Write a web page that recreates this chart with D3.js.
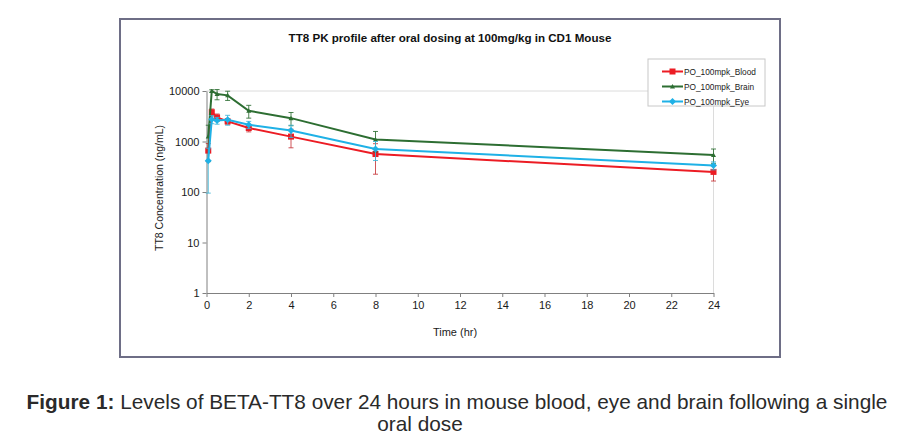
<!DOCTYPE html>
<html>
<head>
<meta charset="utf-8">
<script src="https://cdn.jsdelivr.net/npm/d3@7"></script>
<style>
  body { margin: 0; background: #fff; }
  text { font-family: Arial, "Liberation Sans", sans-serif; }
</style>
</head>
<body>
<div id="chart"></div>
<script>
// sampling times (hr)
const times = [0.083, 0.25, 0.5, 1, 2, 4, 8, 24];

// mean concentrations (ng/mL) and SD per tissue
const bloodMean = [660, 3800, 3000, 2500, 1850, 1250, 565, 250];
const bloodSd   = [250, 600, 500, 300, 300, 500, 340, 85];
const brainMean = [1250, 10000, 8700, 8200, 4050, 2900, 1100, 540];
const brainSd   = [850, 600, 2000, 1700, 1150, 850, 480, 170];
const eyeMean   = [415, 2750, 2600, 2700, 2150, 1650, 710, 335];
const eyeSd     = [320, 500, 400, 600, 350, 450, 290, 60];

const seriesNames = ["PO_100mpk_Blood", "PO_100mpk_Brain", "PO_100mpk_Eye"];
const xTicks = [0, 2, 4, 6, 8, 10, 12, 14, 16, 18, 20, 22, 24];
const yTicks = [1, 10, 100, 1000, 10000];

const width = 916, height = 440;
const plot = { left: 206.5, right: 713.5, top: 91, bottom: 293 };

const series = [
    { name: seriesNames[0], mean: bloodMean, sd: bloodSd, color: "#ec1c24", err: "#c8383c", marker: "square" },
    { name: seriesNames[1], mean: brainMean, sd: brainSd, color: "#2d6e32", err: "#2d6e32", marker: "triangle" },
    { name: seriesNames[2], mean: eyeMean, sd: eyeSd, color: "#1fb1e6", err: "#3fb6d8", marker: "diamond" }
];

const svg = d3.select("#chart").append("svg")
    .attr("width", width)
    .attr("height", height);

svg.append("rect").attr("width", width).attr("height", height).attr("fill", "#fff");

// chart frame
svg.append("rect")
    .attr("x", 120).attr("y", 19)
    .attr("width", 660).attr("height", 338)
    .attr("fill", "#fff")
    .attr("stroke", "#6e6e86")
    .attr("stroke-width", 2);

const x = d3.scaleLinear().domain([0, 24]).range([plot.left, plot.right]);
const y = d3.scaleLog().domain([1, 10000]).range([plot.bottom, plot.top]);

// plot area border (light)
svg.append("path")
    .attr("d", `M${plot.left},${plot.top}H${plot.right}V${plot.bottom}`)
    .attr("fill", "none")
    .attr("stroke", "#dcdcdc")
    .attr("stroke-width", 1);

svg.append("defs").append("clipPath").attr("id", "clip")
    .append("rect")
    .attr("x", plot.left - 10).attr("y", plot.top - 2)
    .attr("width", plot.right - plot.left + 20).attr("height", plot.bottom - plot.top + 2);

// axes
const xAxis = svg.append("g")
    .attr("transform", `translate(0,${plot.bottom})`)
    .call(d3.axisBottom(x).tickValues(xTicks).tickSize(4).tickSizeOuter(0));
const yAxis = svg.append("g")
    .attr("transform", `translate(${plot.left},0)`)
    .call(d3.axisLeft(y).tickValues(yTicks).tickFormat(d3.format("d")).tickSize(4).tickSizeOuter(0));

[xAxis, yAxis].forEach(a => {
    a.select(".domain").attr("stroke", "#808080");
    a.selectAll(".tick line").attr("stroke", "#808080");
    a.selectAll(".tick text")
        .attr("fill", "#1a1a1a")
        .style("font-size", "11px")
        .style("font-family", "Arial, 'Liberation Sans', sans-serif");
});
xAxis.selectAll(".tick text").attr("dy", "0.85em");
yAxis.selectAll(".tick text").attr("x", -7);

// titles
svg.append("text")
    .attr("x", 450).attr("y", 42)
    .attr("text-anchor", "middle")
    .style("font-size", "11.6px").style("font-weight", "bold")
    .attr("fill", "#111")
    .text("TT8 PK profile after oral dosing at 100mg/kg in CD1 Mouse");

svg.append("text")
    .attr("x", 455).attr("y", 336)
    .attr("text-anchor", "middle")
    .style("font-size", "11px")
    .attr("fill", "#1a1a1a")
    .text("Time (hr)");

svg.append("text")
    .attr("transform", `translate(163,188) rotate(-90)`)
    .attr("text-anchor", "middle")
    .style("font-size", "10.5px")
    .attr("fill", "#1a1a1a")
    .text("TT8 Concentration (ng/mL)");

// data layers
const layer = svg.append("g").attr("clip-path", "url(#clip)");
const line = d3.line().x(d => x(d.t)).y(d => y(d.v));

function drawMarker(g, type, color, cx, cy) {
    if (type === "square") {
        g.append("rect").attr("x", cx - 3).attr("y", cy - 3).attr("width", 6).attr("height", 6).attr("fill", color);
    } else if (type === "triangle") {
        g.append("path").attr("d", `M${cx},${cy - 2.5}L${cx + 2.5},${cy + 2}L${cx - 2.5},${cy + 2}Z`).attr("fill", color);
    } else {
        g.append("path").attr("d", `M${cx},${cy - 3.5}L${cx + 3.5},${cy}L${cx},${cy + 3.5}L${cx - 3.5},${cy}Z`).attr("fill", color);
    }
}

series.forEach(s => {
    const pts = times.map((t, i) => ({ t: t, v: s.mean[i], sd: s.sd[i] }));
    const g = layer.append("g");

    // error bars
    pts.forEach(p => {
        const lo = Math.max(p.v - p.sd, 1);
        const hi = p.v + p.sd;
        const cx = x(p.t);
        g.append("line").attr("x1", cx).attr("x2", cx).attr("y1", y(lo)).attr("y2", y(hi))
            .attr("stroke", s.err).attr("stroke-width", 1).attr("opacity", 0.85);
        [lo, hi].forEach(v => {
            g.append("line").attr("x1", cx - 2.5).attr("x2", cx + 2.5).attr("y1", y(v)).attr("y2", y(v))
                .attr("stroke", s.err).attr("stroke-width", 1).attr("opacity", 0.85);
        });
    });

    g.append("path").datum(pts)
        .attr("d", line)
        .attr("fill", "none")
        .attr("stroke", s.color)
        .attr("stroke-width", 2);

    pts.forEach(p => drawMarker(g, s.marker, s.color, x(p.t), y(p.v)));
});

// legend
const legend = svg.append("g");
legend.append("rect")
    .attr("x", 648).attr("y", 59).attr("width", 117).attr("height", 47)
    .attr("fill", "#fff").attr("stroke", "#c8c8c8").attr("stroke-width", 1);

series.forEach((s, i) => {
    const ly = 71.5 + i * 15;
    legend.append("line")
        .attr("x1", 662).attr("x2", 683).attr("y1", ly).attr("y2", ly)
        .attr("stroke", s.color).attr("stroke-width", 2);
    drawMarker(legend, s.marker, s.color, 672.5, ly);
    legend.append("text")
        .attr("x", 684).attr("y", ly + 3)
        .style("font-size", "8.3px")
        .attr("fill", "#1a1a1a")
        .text(s.name);
});

// figure caption
const cap = svg.append("text")
    .attr("x", 457).attr("y", 409)
    .attr("text-anchor", "middle")
    .attr("fill", "#2a2a2a")
    .style("font-size", "20.8px");
cap.append("tspan").style("font-weight", "bold").text("Figure 1:");
cap.append("tspan").text(" Levels of BETA-TT8 over 24 hours in mouse blood, eye and brain following a single");

svg.append("text")
    .attr("x", 420).attr("y", 431)
    .attr("text-anchor", "middle")
    .attr("fill", "#2a2a2a")
    .style("font-size", "20.8px")
    .text("oral dose");
</script>
</body>
</html>
